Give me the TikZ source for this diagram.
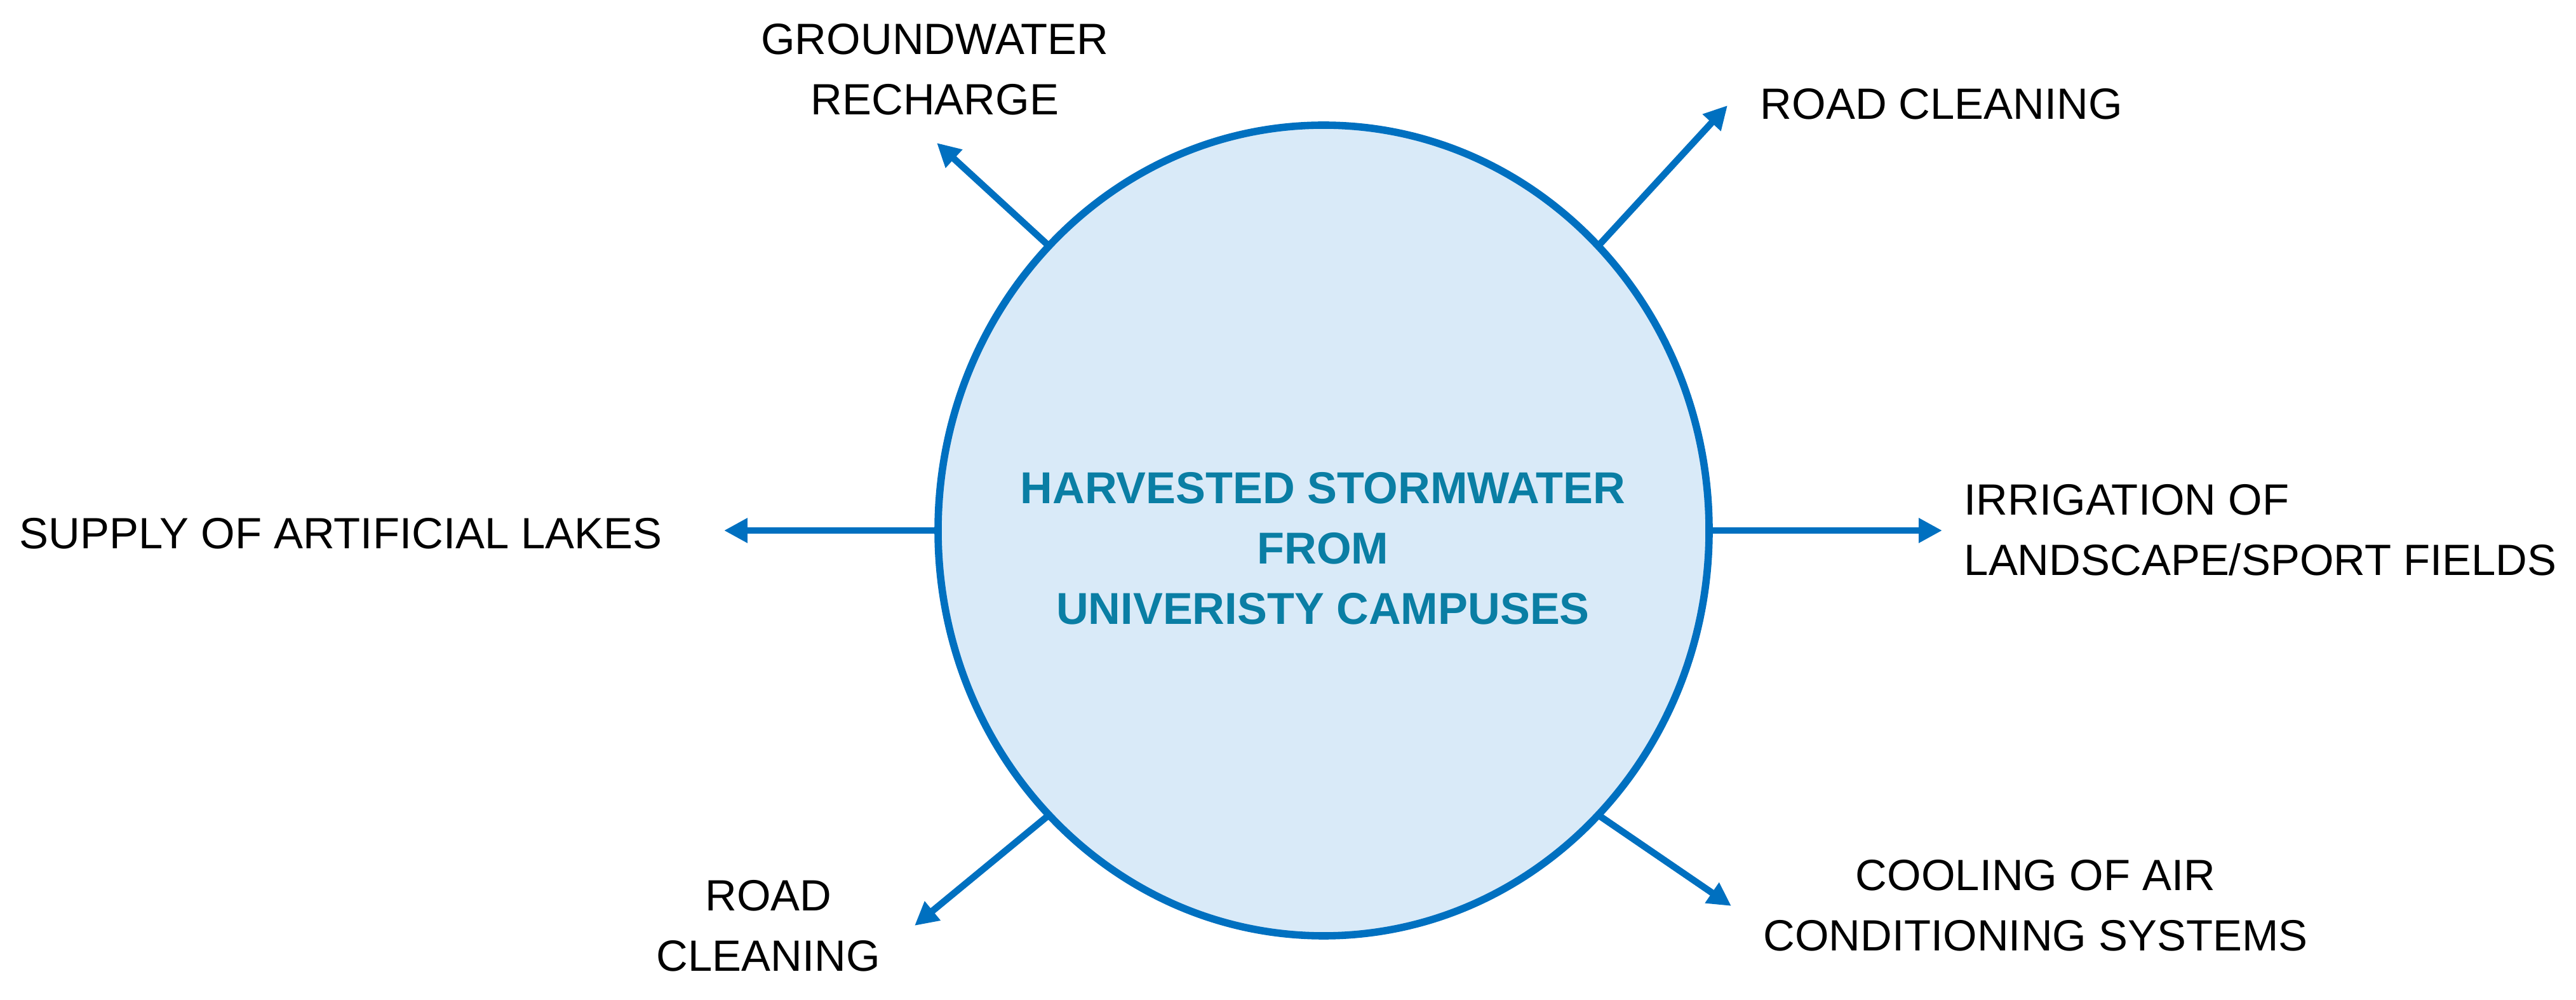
\documentclass[tikz,border=0pt]{standalone}
\usepackage{fontspec}
\setmainfont{Liberation Sans}
\usetikzlibrary{shapes.geometric, arrows.meta, positioning, calc}
\definecolor{hubblue}{HTML}{0070C0}
\definecolor{hubfill}{HTML}{D9EAF8}
\definecolor{hubtext}{HTML}{0A7EA4}

\begin{document}
\begin{tikzpicture}[
    usearrow/.style={hubblue, line width=3pt, -{Triangle[length=10.5pt, width=10.5pt]}},
    uselabel/.style={inner sep=0pt, font=\fontsize{19.6}{27}\selectfont},
  ]
    \useasboundingbox (0,0) rectangle (40.56,15.73);

    % Stormwater hub
    \node[ellipse, draw=hubblue, fill=hubfill, line width=3.3pt, outer sep=0pt,
          minimum width=12.14cm, minimum height=12.76cm] (hub) at (20.84,7.38) {};
    \node[align=center, text=hubtext, font=\bfseries\fontsize{20}{27}\selectfont] (hubtxt) at (20.83,7.10)
        {HARVESTED STORMWATER\\FROM\\UNIVERISTY CAMPUSES};

    % Arrow ends
    \coordinate (gwend) at (14.75,13.48);
    \coordinate (rcend) at (27.20,14.07);
    \coordinate (lakeend) at (11.40,7.38);
    \coordinate (irrend) at (30.58,7.38);
    \coordinate (rcbend) at (14.40,1.16);
    \coordinate (coolend) at (27.26,1.47);

    % Uses
    \node[uselabel, align=center] (gw) at (14.72,14.64) {GROUNDWATER\\RECHARGE};
    \node[uselabel, anchor=west] (rc) at (27.71,14.09) {ROAD CLEANING};
    \node[uselabel, anchor=west] (lake) at (0.30,7.33) {SUPPLY OF ARTIFICIAL LAKES};
    \node[uselabel, anchor=west, align=left] (irr) at (30.92,7.39) {IRRIGATION OF\\LANDSCAPE/SPORT FIELDS};
    \node[uselabel, align=center] (rcb) at (12.10,1.155) {ROAD\\CLEANING};
    \node[uselabel, align=center] (cool) at (32.05,1.475) {COOLING OF AIR\\CONDITIONING SYSTEMS};

    % Arrows
    \draw[usearrow] (hub.134) -- (gwend);
    \draw[usearrow] (hub.46) -- (rcend);
    \draw[usearrow] (hub.west) -- (lakeend);
    \draw[usearrow] (hub.east) -- (irrend);
    \draw[usearrow] (hub.226) -- (rcbend);
    \draw[usearrow] (hub.314) -- (coolend);
\end{tikzpicture}
\end{document}
